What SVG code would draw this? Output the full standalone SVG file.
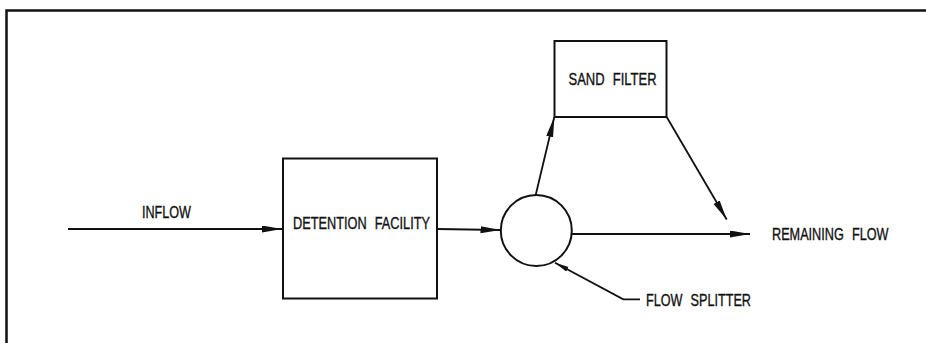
<svg xmlns="http://www.w3.org/2000/svg" width="926" height="343" viewBox="0 0 926 343">
<style>
.frame{fill:none;stroke:#111;stroke-width:2.5}
.box{fill:none;stroke:#111;stroke-width:2}
.ln{fill:none;stroke:#111;stroke-width:1.8}
.t{font-family:"Liberation Sans",Arial,sans-serif;font-size:16.5px;fill:#111;stroke:#111;stroke-width:0.35;word-spacing:6px}
</style>
<defs>
<marker id="ah" markerUnits="userSpaceOnUse" markerWidth="22" markerHeight="10" refX="20" refY="3.5" orient="auto">
<path d="M0,0 L20,3.5 L0,7 Z" fill="#111"/>
</marker>
<marker id="ahs" markerUnits="userSpaceOnUse" markerWidth="16" markerHeight="8" refX="14" refY="2.5" orient="auto">
<path d="M0,0 L14,2.5 L0,5 Z" fill="#111"/>
</marker>
</defs>
<rect width="926" height="343" fill="#fff"/>
<path class="frame" d="M6.5,343 V10.5 H926"/>
<g id="detention">
<rect class="box" x="283" y="158.5" width="154" height="140"/>
<text class="t" x="293" y="229" textLength="137" lengthAdjust="spacingAndGlyphs">DETENTION FACILITY</text>
</g>
<g id="sandfilter">
<rect class="box" x="554.5" y="41" width="112" height="76"/>
<text class="t" x="568.5" y="85" textLength="88" lengthAdjust="spacingAndGlyphs">SAND FILTER</text>
</g>
<g id="splitter">
<circle class="box" cx="536.3" cy="230.5" r="35.5"/>
</g>
<g id="labels">
<text class="t" x="142" y="218" textLength="49" lengthAdjust="spacingAndGlyphs">INFLOW</text>
<text class="t" x="772" y="239.5" textLength="116.5" lengthAdjust="spacingAndGlyphs">REMAINING FLOW</text>
<text class="t" x="646" y="306" textLength="105" lengthAdjust="spacingAndGlyphs">FLOW SPLITTER</text>
</g>
<g id="connectors">
<line class="ln" x1="68" y1="229" x2="282" y2="229" marker-end="url(#ah)"/>
<line class="ln" x1="437" y1="229" x2="500.5" y2="230" marker-end="url(#ah)"/>
<line class="ln" x1="535.7" y1="195" x2="554.3" y2="117" marker-end="url(#ah)"/>
<line class="ln" x1="666.7" y1="117" x2="726.7" y2="219.5" marker-end="url(#ah)"/>
<line class="ln" x1="571.7" y1="234" x2="750" y2="234" marker-end="url(#ah)"/>
<polyline class="ln" points="640,299.3 623.3,299.3 555,262.7" marker-end="url(#ahs)"/>
</g>
</svg>
